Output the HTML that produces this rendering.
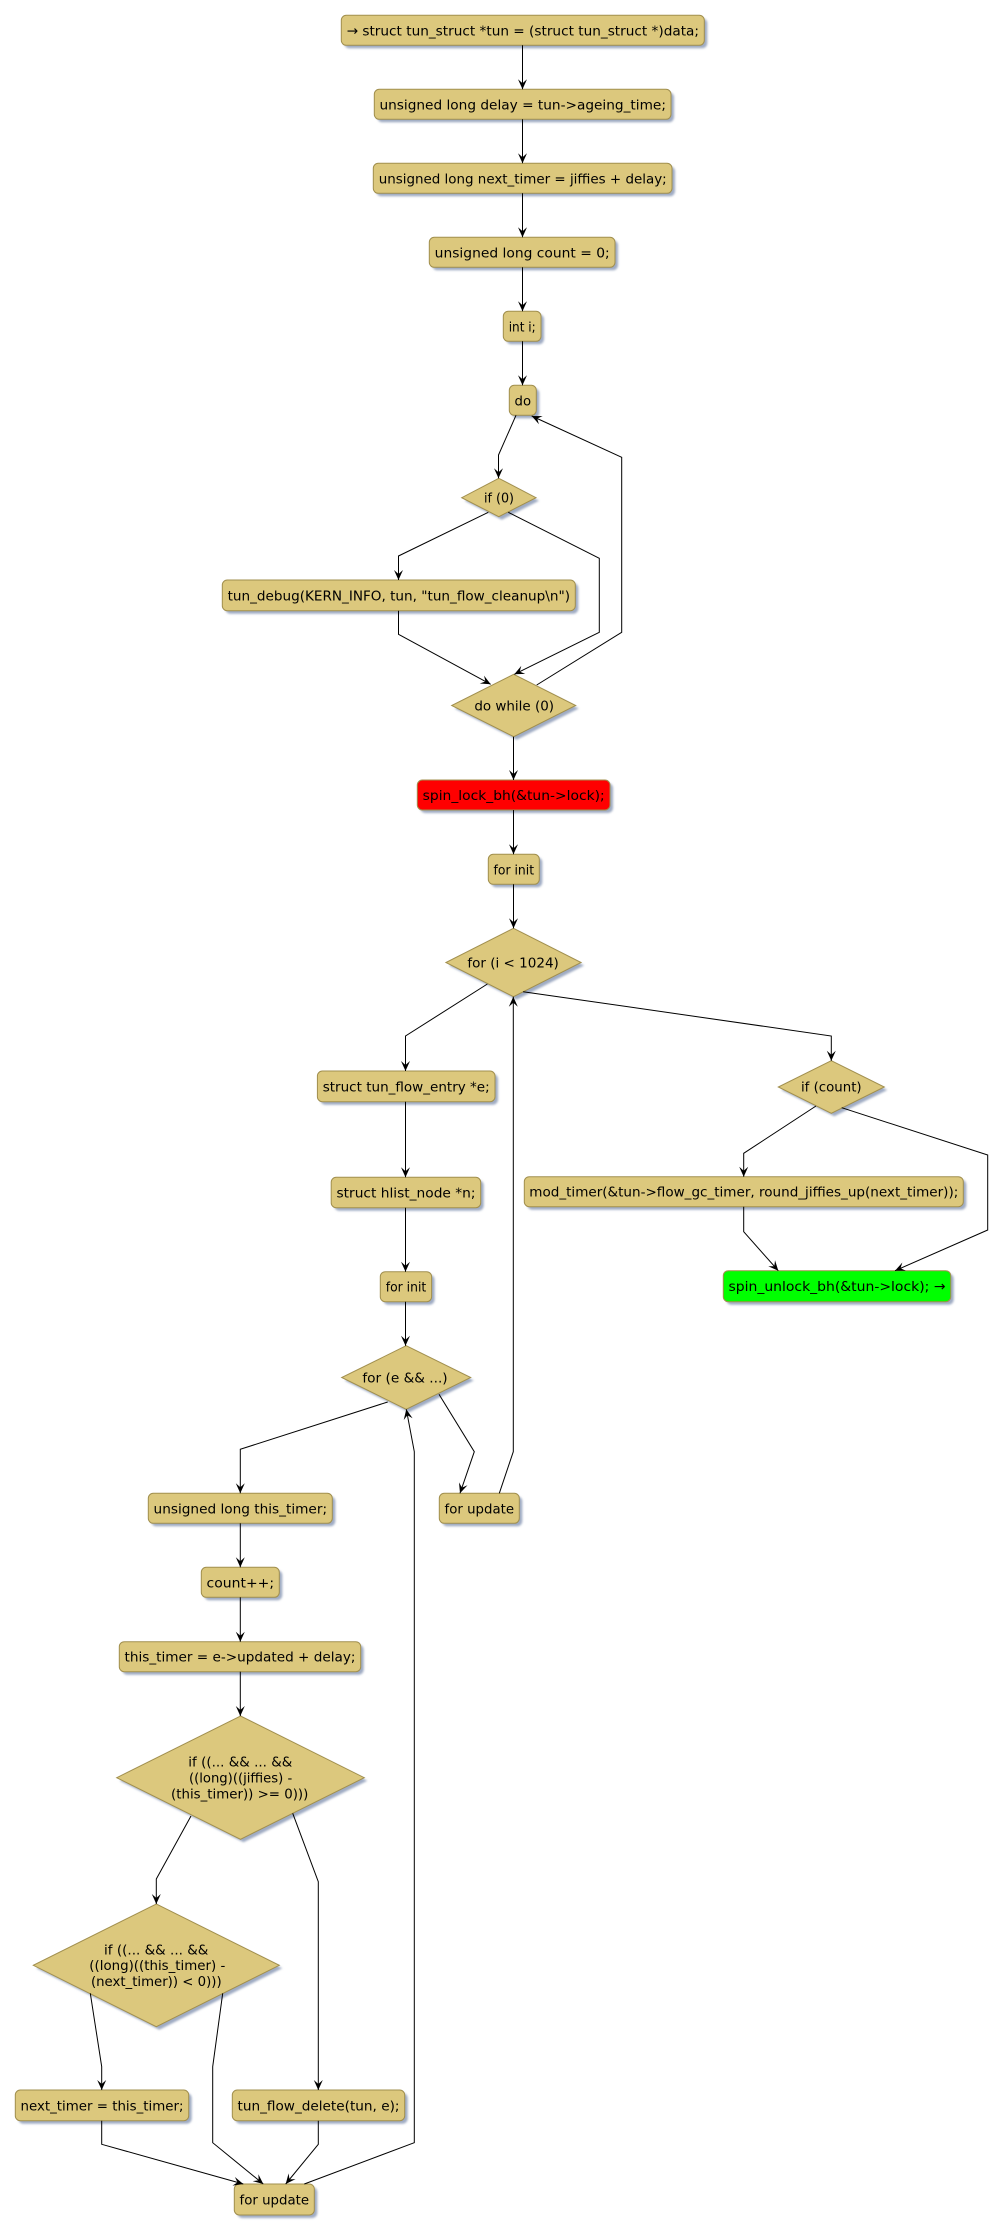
<!DOCTYPE html>
<html><head><meta charset="utf-8"><style>
html,body{margin:0;padding:0;background:#fff;}
svg{display:block;}
text{font-family:"DejaVu Sans","Liberation Sans",sans-serif;font-size:13.7px;fill:#000;}
</style></head><body>
<svg width="1003" height="2233" viewBox="0 0 1003 2233" xmlns="http://www.w3.org/2000/svg">
<defs>
<filter id="sh" x="-10%" y="-10%" width="130%" height="140%"><feGaussianBlur stdDeviation="1"/></filter>
<marker id="a" markerUnits="userSpaceOnUse" markerWidth="14" markerHeight="12" viewBox="-11 -6 12 12" refX="0" refY="0" orient="auto"><path d="M0,0 L-10,-4.5 L-6,0 L-10,4.5 Z" fill="#000"/></marker>
</defs>
<rect width="1003" height="2233" fill="#fff"/>

<!-- shadows -->
<g fill="#9FABC3" filter="url(#sh)" transform="translate(3,3)">
<rect x="341.3" y="15.3" width="363" height="30" rx="5"/>
<rect x="374.3" y="89.3" width="296.7" height="30" rx="5"/>
<rect x="373.3" y="163.3" width="298.7" height="30" rx="5"/>
<rect x="429.3" y="237.3" width="185.7" height="30" rx="5"/>
<rect x="503.3" y="311.3" width="37.7" height="30" rx="5"/>
<rect x="509.3" y="385.3" width="27" height="30" rx="5"/>
<polygon points="498.8,478.3 536,497.7 498.8,516.7 461.7,497.7"/>
<rect x="222.3" y="580" width="353" height="30.7" rx="5"/>
<polygon points="513.7,674.3 575.7,705.5 513.7,736.7 451.7,705.5"/>
<rect x="417.3" y="780" width="192.7" height="30" rx="5"/>
<rect x="488.3" y="854.3" width="51" height="30" rx="5"/>
<polygon points="513.5,928.3 581.1,962.5 513.5,996.7 445.9,962.5"/>
<rect x="317.4" y="1071" width="177.6" height="30.7" rx="5"/>
<rect x="331.2" y="1177.3" width="149.5" height="30.4" rx="5"/>
<rect x="380.3" y="1271.7" width="51.3" height="30" rx="5"/>
<polygon points="406.2,1345.7 470.7,1377.5 406.2,1409.3 341.7,1377.5"/>
<rect x="439.3" y="1493.3" width="80" height="30" rx="5"/>
<rect x="148.3" y="1493.3" width="184" height="30" rx="5"/>
<rect x="201.3" y="1567.3" width="78" height="30" rx="5"/>
<rect x="119.3" y="1641.7" width="241.4" height="30" rx="5"/>
<polygon points="240.5,1716 364.3,1777.7 240.5,1839.3 116.7,1777.7"/>
<polygon points="156.3,1904 279.3,1965.3 156.3,2026.7 33.3,1965.3"/>
<rect x="15.3" y="2090" width="173.4" height="30.7" rx="5"/>
<rect x="232.3" y="2090" width="172.4" height="30.7" rx="5"/>
<rect x="234.3" y="2184" width="80" height="31" rx="5"/>
<polygon points="831.3,1060.7 884.3,1087 831.3,1113.3 778.3,1087"/>
<rect x="524.3" y="1176.7" width="439" height="30" rx="5"/>
<rect x="723.3" y="1270.7" width="227.4" height="31" rx="5"/>
</g>

<!-- shapes -->
<g fill="#DCC87D" stroke="#A18F4E" stroke-width="1">
<rect x="341.3" y="15.3" width="363" height="30" rx="5"/>
<rect x="374.3" y="89.3" width="296.7" height="30" rx="5"/>
<rect x="373.3" y="163.3" width="298.7" height="30" rx="5"/>
<rect x="429.3" y="237.3" width="185.7" height="30" rx="5"/>
<rect x="503.3" y="311.3" width="37.7" height="30" rx="5"/>
<rect x="509.3" y="385.3" width="27" height="30" rx="5"/>
<polygon points="498.8,478.3 536,497.7 498.8,516.7 461.7,497.7"/>
<rect x="222.3" y="580" width="353" height="30.7" rx="5"/>
<polygon points="513.7,674.3 575.7,705.5 513.7,736.7 451.7,705.5"/>
<rect x="417.3" y="780" width="192.7" height="30" rx="5" fill="#FF0000"/>
<rect x="488.3" y="854.3" width="51" height="30" rx="5"/>
<polygon points="513.5,928.3 581.1,962.5 513.5,996.7 445.9,962.5"/>
<rect x="317.4" y="1071" width="177.6" height="30.7" rx="5"/>
<rect x="331.2" y="1177.3" width="149.5" height="30.4" rx="5"/>
<rect x="380.3" y="1271.7" width="51.3" height="30" rx="5"/>
<polygon points="406.2,1345.7 470.7,1377.5 406.2,1409.3 341.7,1377.5"/>
<rect x="439.3" y="1493.3" width="80" height="30" rx="5"/>
<rect x="148.3" y="1493.3" width="184" height="30" rx="5"/>
<rect x="201.3" y="1567.3" width="78" height="30" rx="5"/>
<rect x="119.3" y="1641.7" width="241.4" height="30" rx="5"/>
<polygon points="240.5,1716 364.3,1777.7 240.5,1839.3 116.7,1777.7"/>
<polygon points="156.3,1904 279.3,1965.3 156.3,2026.7 33.3,1965.3"/>
<rect x="15.3" y="2090" width="173.4" height="30.7" rx="5"/>
<rect x="232.3" y="2090" width="172.4" height="30.7" rx="5"/>
<rect x="234.3" y="2184" width="80" height="31" rx="5"/>
<polygon points="831.3,1060.7 884.3,1087 831.3,1113.3 778.3,1087"/>
<rect x="524.3" y="1176.7" width="439" height="30" rx="5"/>
<rect x="723.3" y="1270.7" width="227.4" height="31" rx="5" fill="#00FF00"/>
</g>

<!-- texts -->
<g text-anchor="middle">
<text x="522.8" y="35.3" textLength="352.4" lengthAdjust="spacingAndGlyphs">→ struct tun_struct *tun = (struct tun_struct *)data;</text>
<text x="522.7" y="109.3" textLength="286.5" lengthAdjust="spacingAndGlyphs">unsigned long delay = tun-&gt;ageing_time;</text>
<text x="522.7" y="183.3" textLength="288" lengthAdjust="spacingAndGlyphs">unsigned long next_timer = jiffies + delay;</text>
<text x="522.2" y="257.3" textLength="175" lengthAdjust="spacingAndGlyphs">unsigned long count = 0;</text>
<text x="522.2" y="331.3" textLength="27" lengthAdjust="spacingAndGlyphs">int i;</text>
<text x="522.8" y="405.3" textLength="16.5" lengthAdjust="spacingAndGlyphs">do</text>
<text x="499" y="502.7" textLength="30" lengthAdjust="spacingAndGlyphs">if (0)</text>
<text x="398.8" y="600.3" textLength="342.4" lengthAdjust="spacingAndGlyphs">tun_debug(KERN_INFO, tun, "tun_flow_cleanup\n")</text>
<text x="514.2" y="710.5" textLength="79.7" lengthAdjust="spacingAndGlyphs">do while (0)</text>
<text x="513.7" y="800" textLength="182" lengthAdjust="spacingAndGlyphs">spin_lock_bh(&amp;tun-&gt;lock);</text>
<text x="513.8" y="874.3" textLength="40.5" lengthAdjust="spacingAndGlyphs">for init</text>
<text x="513.1" y="967.5" textLength="91.5" lengthAdjust="spacingAndGlyphs">for (i &lt; 1024)</text>
<text x="406.2" y="1091.3" textLength="167" lengthAdjust="spacingAndGlyphs">struct tun_flow_entry *e;</text>
<text x="406" y="1197.5" textLength="139" lengthAdjust="spacingAndGlyphs">struct hlist_node *n;</text>
<text x="406" y="1291.7" textLength="40.5" lengthAdjust="spacingAndGlyphs">for init</text>
<text x="405" y="1382.5" textLength="85.3" lengthAdjust="spacingAndGlyphs">for (e &amp;&amp; ...)</text>
<text x="479.3" y="1513.3" textLength="69.5" lengthAdjust="spacingAndGlyphs">for update</text>
<text x="240.3" y="1513.3" textLength="173.5" lengthAdjust="spacingAndGlyphs">unsigned long this_timer;</text>
<text x="240.3" y="1587.3" textLength="67.5" lengthAdjust="spacingAndGlyphs">count++;</text>
<text x="240" y="1661.7" textLength="231" lengthAdjust="spacingAndGlyphs">this_timer = e-&gt;updated + delay;</text>
<text x="240.3" y="1766.7" textLength="104" lengthAdjust="spacingAndGlyphs">if ((... &amp;&amp; ... &amp;&amp;</text>
<text x="240.6" y="1782.7" textLength="103.3" lengthAdjust="spacingAndGlyphs">((long)((jiffies) -</text>
<text x="239.7" y="1798.7" textLength="137.3" lengthAdjust="spacingAndGlyphs">(this_timer)) &gt;= 0)))</text>
<text x="156.2" y="1954.3" textLength="104.3" lengthAdjust="spacingAndGlyphs">if ((... &amp;&amp; ... &amp;&amp;</text>
<text x="157.3" y="1970" textLength="136" lengthAdjust="spacingAndGlyphs">((long)((this_timer) -</text>
<text x="156.3" y="1986" textLength="130.7" lengthAdjust="spacingAndGlyphs">(next_timer)) &lt; 0)))</text>
<text x="102" y="2110.3" textLength="163" lengthAdjust="spacingAndGlyphs">next_timer = this_timer;</text>
<text x="318.5" y="2110.3" textLength="162" lengthAdjust="spacingAndGlyphs">tun_flow_delete(tun, e);</text>
<text x="274.3" y="2204.5" textLength="69.5" lengthAdjust="spacingAndGlyphs">for update</text>
<text x="831.3" y="1091.7" textLength="60.7" lengthAdjust="spacingAndGlyphs">if (count)</text>
<text x="743.8" y="1196.7" textLength="429" lengthAdjust="spacingAndGlyphs">mod_timer(&amp;tun-&gt;flow_gc_timer, round_jiffies_up(next_timer));</text>
<text x="837" y="1291" textLength="217" lengthAdjust="spacingAndGlyphs">spin_unlock_bh(&amp;tun-&gt;lock); →</text>
</g>

<!-- edges -->
<g fill="none" stroke="#000" stroke-width="1" marker-end="url(#a)">
<polyline points="522.5,45.3 522.5,89.3"/>
<polyline points="522.5,119.3 522.5,163.3"/>
<polyline points="522.5,193.3 522.5,237.3"/>
<polyline points="522.5,267.3 522.5,311.3"/>
<polyline points="522.5,341.3 522.5,385.3"/>
<polyline points="516,415.3 498.5,455 498.5,478.3"/>
<polyline points="488.3,512.3 398.5,556 398.5,580"/>
<polyline points="508.3,512.3 599.3,558.3 599.3,632.3 514.3,674.3"/>
<polyline points="398.5,610.7 398.5,634.3 490.7,684.3"/>
<polyline points="536.7,685 621.7,632.3 621.7,457.3 531.7,416"/>
<polyline points="513.5,736.7 513.5,780"/>
<polyline points="513.5,810 513.5,854.3"/>
<polyline points="513.5,884.3 513.5,928.3"/>
<polyline points="487.4,984 405.5,1036 405.5,1071"/>
<polyline points="523.1,991.7 831.3,1036 831.3,1060.7"/>
<polyline points="405.5,1101.7 405.5,1177.3"/>
<polyline points="405.5,1207.7 405.5,1271.7"/>
<polyline points="405.5,1301.7 405.5,1345.7"/>
<polyline points="387.7,1402 240.3,1449.3 240.3,1493.3"/>
<polyline points="439,1394.3 474.3,1451.7 460,1493.3"/>
<polyline points="499.3,1493.3 513.3,1451.7 513.3,996.7"/>
<polyline points="240.3,1523.3 240.3,1567.3"/>
<polyline points="240.3,1597.3 240.3,1641.7"/>
<polyline points="240.3,1671.7 240.3,1716"/>
<polyline points="191,1816 156.3,1879 156.3,1904"/>
<polyline points="292.7,1813.3 318.3,1881.7 318.3,2090"/>
<polyline points="90.3,1993.3 101.7,2066.7 101.7,2090"/>
<polyline points="222.7,1993.3 212.7,2066.7 212.7,2142.7 263.3,2184"/>
<polyline points="101.7,2120.7 101.7,2144.3 243.3,2184"/>
<polyline points="318.3,2120.7 318.3,2144.3 285.7,2184"/>
<polyline points="304.3,2184 414.3,2142.7 414.3,1451.7 406.3,1409.3"/>
<polyline points="816,1106 743.7,1153.3 743.7,1176.7"/>
<polyline points="841.7,1107.7 987.7,1155 987.7,1230 895,1270.7"/>
<polyline points="743.7,1206.7 743.7,1231.7 778.3,1270.7"/>
</g>
</svg>
</body></html>
